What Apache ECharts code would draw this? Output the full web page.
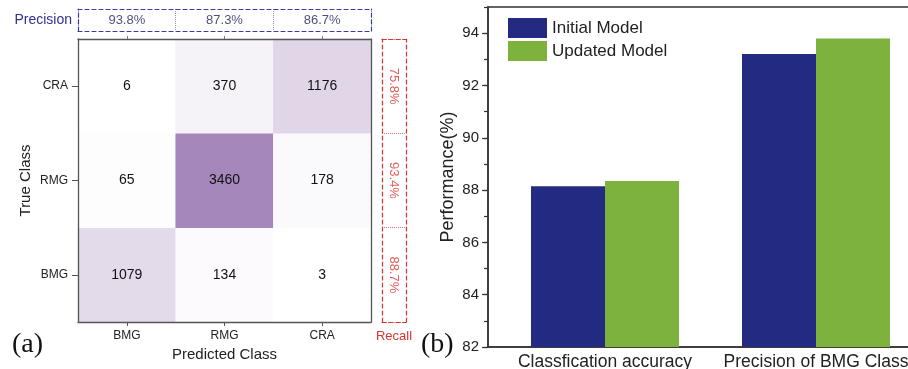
<!DOCTYPE html>
<html><head><meta charset="utf-8">
<script src="https://cdn.jsdelivr.net/npm/echarts@6/dist/echarts.min.js"></script>
<style>html,body{margin:0;padding:0;background:#fff}#c{width:908px;height:369px}</style>
</head><body><div id="c"></div>
<script>
const classes = ['BMG', 'RMG', 'CRA'];
// rows: true class (BMG, RMG, CRA); columns: predicted class (BMG, RMG, CRA)
const confusion = [
  [1079, 134, 3],
  [65, 3460, 178],
  [6, 370, 1176]
];
const precision = [93.8, 87.3, 86.7];   // per predicted class
const recall = [88.7, 93.4, 75.8];      // per true class
const barCategories = ['Classfication accuracy', 'Precision of BMG Class'];
const initialModel = [88.15, 93.2];
const updatedModel = [88.35, 93.8];
const yTicks = [82, 84, 86, 88, 90, 92, 94];

const FONT = 'Liberation Sans, Arial, sans-serif';
const BLUE = '#3b3f9c', BLUE_T = '#22265e', RED = '#d8342e';

const heatData = [];
confusion.forEach((row, r) => row.forEach((v, c) => heatData.push([c, r, v])));
const maxVal = Math.max(...confusion.flat());

const frame = { show: true, lineStyle: { color: '#555', width: 1.3 } };
const dashed = (col) => ({ show: true, lineStyle: { color: col, width: 1.2, type: [4, 3] } });

const chart = echarts.init(document.getElementById('c'));
chart.setOption({
  animation: false,
  textStyle: { fontFamily: FONT },
  grid: [
    { left: 78, top: 39, width: 293, height: 283, outerBoundsMode: 'none' },
    { left: 78, top: 9, width: 293, height: 22, outerBoundsMode: 'none' },
    { left: 382, top: 39, width: 24, height: 283, outerBoundsMode: 'none' },
    { left: 488, top: 7, width: 430, bottom: 22, outerBoundsMode: 'none', show: true, borderColor: '#333', borderWidth: 1.5, backgroundColor: 'transparent' }
  ],
  visualMap: { show: false, type: 'continuous', min: 0, max: maxVal, seriesIndex: 0,
    inRange: { color: ['#ffffff', '#a587bc'] } },
  legend: {
    orient: 'vertical', left: 508, top: 18, padding: 0, itemWidth: 39, itemHeight: 20, itemGap: 3,
    icon: 'rect',
    textStyle: { fontSize: 17, color: '#222', fontFamily: FONT },
    data: ['Initial Model', 'Updated Model']
  },
  xAxis: [
    { gridIndex: 0, type: 'category', data: classes, position: 'bottom', z: 5,
      axisLine: frame, axisTick: { show: true, length: 4, alignWithLabel: true, lineStyle: { color: '#555' } },
      axisLabel: { fontSize: 12, color: '#222', margin: 8 },
      name: 'Predicted Class', nameLocation: 'middle', nameGap: 24,
      nameTextStyle: { fontSize: 15, color: '#222' } },
    { gridIndex: 0, type: 'category', data: classes, position: 'top', z: 5,
      axisLine: frame, axisTick: { show: true, length: 3, alignWithLabel: true, lineStyle: { color: '#777' } },
      axisLabel: { show: false } },
    { gridIndex: 1, type: 'category', data: classes, position: 'bottom',
      axisLine: dashed(BLUE), axisTick: { show: false }, axisLabel: { show: false },
      splitLine: { show: true, interval: 0, lineStyle: { color: '#8a8ec8', type: 'dotted', width: 1 } } },
    { gridIndex: 1, type: 'category', data: classes, position: 'top',
      axisLine: dashed(BLUE), axisTick: { show: false }, axisLabel: { show: false } },
    { gridIndex: 2, type: 'category', data: ['Recall'], position: 'bottom',
      axisLine: dashed(RED), axisTick: { show: false },
      axisLabel: { fontSize: 13, color: RED, margin: 8 } },
    { gridIndex: 2, type: 'category', data: ['Recall'], position: 'top',
      axisLine: dashed(RED), axisTick: { show: false }, axisLabel: { show: false } },
    { gridIndex: 3, type: 'value', min: 0.4455, max: 2.4834, position: 'bottom',
      axisLine: { show: true, lineStyle: { color: '#333', width: 1.5 } },
      axisTick: { show: false }, splitLine: { show: false },
      axisLabel: { customValues: [1, 2], fontSize: 17.5, color: '#222', margin: 6,
        formatter: v => barCategories[Math.round(v) - 1] || '' } }
  ],
  yAxis: [
    { gridIndex: 0, type: 'category', data: classes, position: 'left', z: 5,
      axisLine: frame, axisTick: { show: true, length: 6, alignWithLabel: true, lineStyle: { color: '#555' } },
      axisLabel: { fontSize: 12, color: '#222', margin: 10 },
      name: 'True Class', nameLocation: 'middle', nameGap: 45,
      nameTextStyle: { fontSize: 15, color: '#222' } },
    { gridIndex: 0, type: 'category', data: classes, position: 'right', z: 5,
      axisLine: frame, axisTick: { show: false }, axisLabel: { show: false } },
    { gridIndex: 1, type: 'category', data: ['Precision'], position: 'left',
      axisLine: dashed(BLUE), axisTick: { show: false },
      axisLabel: { fontSize: 14, color: '#2e3192', margin: 6 } },
    { gridIndex: 1, type: 'category', data: ['Precision'], position: 'right',
      axisLine: dashed(BLUE), axisTick: { show: false }, axisLabel: { show: false } },
    { gridIndex: 2, type: 'category', data: classes, position: 'left',
      axisLine: dashed(RED), axisTick: { show: false }, axisLabel: { show: false },
      splitLine: { show: true, interval: 0, lineStyle: { color: '#e07a76', type: 'dotted', width: 1 } } },
    { gridIndex: 2, type: 'category', data: classes, position: 'right',
      axisLine: dashed(RED), axisTick: { show: false }, axisLabel: { show: false } },
    { gridIndex: 3, type: 'value', min: yTicks[0], max: 95, interval: 2, position: 'left',
      axisLine: { show: true, lineStyle: { color: '#333', width: 1.5 } },
      axisTick: { show: true, length: 6, lineStyle: { color: '#333', width: 1.2 } },
      axisLabel: { fontSize: 15, color: '#222', margin: 9, showMaxLabel: false },
      splitLine: { show: false },
      name: 'Performance(%)', nameLocation: 'middle', nameGap: 31,
      nameTextStyle: { fontSize: 18, color: '#222' } },
    { gridIndex: 3, type: 'value', min: yTicks[0], max: 95, interval: 1, position: 'left',
      axisLine: { show: false },
      axisTick: { show: true, length: 4, lineStyle: { color: '#333', width: 1.2 } },
      axisLabel: { show: false }, splitLine: { show: false } }
  ],
  series: [
    { type: 'heatmap', xAxisIndex: 0, yAxisIndex: 0, data: heatData,
      label: { show: true, fontSize: 14, color: '#111', formatter: p => p.value[2] },
      itemStyle: { borderWidth: 0 }, emphasis: { disabled: true } },
    { type: 'scatter', xAxisIndex: 2, yAxisIndex: 2, symbolSize: 1,
      itemStyle: { color: 'rgba(0,0,0,0)' },
      data: precision.map((p, i) => [i, 0, p]),
      label: { show: true, position: 'inside', fontSize: 13, color: BLUE_T,
        formatter: p => p.value[2].toFixed(1) + '%' } },
    { type: 'scatter', xAxisIndex: 4, yAxisIndex: 4, symbolSize: 1,
      itemStyle: { color: 'rgba(0,0,0,0)' },
      data: recall.map((r, i) => [0, i, r]),
      label: { show: true, position: 'inside', fontSize: 13, color: RED, rotate: -90,
        formatter: p => p.value[2].toFixed(1) + '%' } },
    { type: 'bar', name: 'Initial Model', xAxisIndex: 6, yAxisIndex: 6,
      barWidth: 74, barGap: '0%', itemStyle: { color: '#232a82' },
      data: initialModel.map((v, i) => [i + 1, v]) },
    { type: 'bar', name: 'Updated Model', xAxisIndex: 6, yAxisIndex: 6,
      barWidth: 74, barGap: '0%', itemStyle: { color: '#7db23d' },
      data: updatedModel.map((v, i) => [i + 1, v]) }
  ],
  graphic: [
    { type: 'text', left: 12, top: 331, style: { text: '(a)', font: '28px "Liberation Serif", "Times New Roman", serif', fill: '#111' } },
    { type: 'text', left: 421, top: 331, style: { text: '(b)', font: '28px "Liberation Serif", "Times New Roman", serif', fill: '#111' } }
  ]
});
</script></body></html>
